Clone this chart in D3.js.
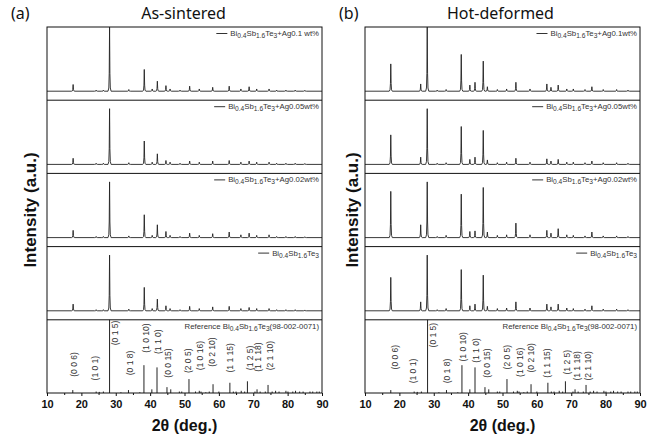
<!DOCTYPE html>
<html><head><meta charset="utf-8">
<script src="https://cdn.jsdelivr.net/npm/d3@7"></script>
<style>body{margin:0;background:#fff}svg{display:block}</style>
</head><body>
<svg id="c" width="653" height="445"></svg>
<script>
// ---------------- DATA ----------------
const panelTitles = ["As-sintered", "Hot-deformed"];
const panelTags = ["(a)", "(b)"];
const xTicks = [10, 20, 30, 40, 50, 60, 70, 80, 90];
const xMinorTicks = [15, 25, 35, 45, 55, 65, 75, 85];
const xLabel = "2θ (deg.)";
const yLabel = "Intensity (a.u.)";

// sample legends (top to bottom), sub-scripts marked by parts
const legendA = [
  [["Bi",0],["0.4",1],["Sb",0],["1.6",1],["Te",0],["3",1],["+Ag0.1 wt%",0]],
  [["Bi",0],["0.4",1],["Sb",0],["1.6",1],["Te",0],["3",1],["+Ag0.05wt%",0]],
  [["Bi",0],["0.4",1],["Sb",0],["1.6",1],["Te",0],["3",1],["+Ag0.02wt%",0]],
  [["Bi",0],["0.4",1],["Sb",0],["1.6",1],["Te",0],["3",1]]
];
const legendB = [
  [["Bi",0],["0.4",1],["Sb",0],["1.6",1],["Te",0],["3",1],["+Ag0.1wt%",0]],
  [["Bi",0],["0.4",1],["Sb",0],["1.6",1],["Te",0],["3",1],["+Ag0.05wt%",0]],
  [["Bi",0],["0.4",1],["Sb",0],["1.6",1],["Te",0],["3",1],["+Ag0.02wt%",0]],
  [["Bi",0],["0.4",1],["Sb",0],["1.6",1],["Te",0],["3",1]]
];
const refLegend = [["Reference Bi",0],["0.4",1],["Sb",0],["1.6",1],["Te",0],["3",1],["(98-002-0071)",0]];

// As-sintered peak positions (deg) and relative intensities per sample
const peaksA = [17.6, 24.3, 26.4, 28.2, 33.8, 38.3, 40.6, 42.1, 44.6, 45.8, 48.7, 51.5, 54.3, 58.2, 63.0, 66.4, 68.8, 71.0, 74.6, 76.8, 79.5, 82.2, 85.0];
const asAg01  = [0.12,0.02,0.02,1.15,0.03,0.39,0.04,0.18,0.10,0.04,0.02,0.09,0.04,0.07,0.09,0.04,0.08,0.04,0.04,0.02,0.02,0.02,0.015];
const asAg005 = [0.11,0.02,0.02,1.00,0.03,0.42,0.04,0.19,0.07,0.04,0.02,0.06,0.04,0.06,0.07,0.04,0.06,0.04,0.04,0.02,0.02,0.02,0.015];
const asAg002 = [0.13,0.02,0.02,1.00,0.03,0.41,0.04,0.23,0.11,0.04,0.02,0.08,0.04,0.07,0.10,0.05,0.08,0.04,0.05,0.02,0.02,0.02,0.015];
const asAg0   = [0.12,0.02,0.02,1.00,0.03,0.42,0.04,0.21,0.09,0.04,0.02,0.08,0.04,0.07,0.08,0.04,0.06,0.04,0.04,0.02,0.02,0.02,0.015];

// Hot-deformed peak positions and intensities
const peaksB = [17.5, 26.2, 28.1, 31.0, 33.6, 38.0, 40.5, 42.0, 44.4, 45.6, 48.5, 51.2, 53.9, 58.0, 62.9, 64.1, 66.2, 68.7, 70.6, 74.0, 76.0, 79.3, 83.2, 86.5];
const hdAg01  = [0.49,0.13,1.15,0.02,0.03,0.66,0.11,0.16,0.54,0.08,0.03,0.04,0.16,0.04,0.13,0.07,0.11,0.04,0.04,0.03,0.08,0.03,0.03,0.02];
const hdAg005 = [0.53,0.13,1.00,0.02,0.03,0.68,0.09,0.13,0.61,0.08,0.03,0.04,0.11,0.04,0.10,0.06,0.09,0.04,0.04,0.03,0.06,0.03,0.03,0.02];
const hdAg002 = [0.83,0.23,1.00,0.02,0.04,0.78,0.11,0.12,0.90,0.10,0.04,0.05,0.26,0.05,0.13,0.08,0.16,0.05,0.04,0.03,0.10,0.03,0.03,0.02];
const hdAg0   = [0.60,0.16,1.00,0.02,0.04,0.74,0.09,0.12,0.64,0.08,0.04,0.05,0.16,0.05,0.12,0.07,0.12,0.05,0.04,0.03,0.09,0.03,0.03,0.02];

// Reference stick pattern (98-002-0071)
const refPos = [17.5,24.3,25.2,26.4,28.2,31.5,33.7,37.0,38.2,40.5,42.0,44.9,46.0,48.5,49.2,51.3,53.2,54.3,54.8,56.2,57.2,58.3,60.0,63.2,64.2,65.0,66.5,67.5,68.3,70.5,71.1,72.0,73.5,74.3,75.5,76.5,77.5,79.5,80.1,81.5,82.3,83.5,84.5,86.5,87.3,88.5,89.2];
const refInt = [0.04,0.02,0.015,0.02,1.0,0.01,0.04,0.01,0.38,0.05,0.35,0.08,0.05,0.02,0.02,0.19,0.02,0.03,0.02,0.01,0.02,0.12,0.02,0.14,0.02,0.02,0.03,0.02,0.16,0.02,0.05,0.02,0.02,0.11,0.02,0.03,0.02,0.03,0.02,0.02,0.03,0.02,0.02,0.02,0.02,0.02,0.02];
const hklLabels = ["(0 0 6)","(1 0 1)","(0 1 5)","(0 1 8)","(1 0 10)","(1 1 0)","(0 0 15)","(2 0 5)","(1 0 16)","(0 2 10)","(1 1 15)","(1 2 5)","(1 1 18)","(2 1 10)"];
// label anchor (deg, relative height in reference band) for each panel
const hklDegA = [17.85,24.0,29.8,34.1,38.8,42.4,45.1,51.1,54.5,57.9,63.2,69.1,71.5,74.9];
const hklRelA = [0.39,0.34,0.82,0.41,0.75,0.70,0.41,0.44,0.51,0.56,0.48,0.48,0.49,0.51];
const hklDegB = [18.7,24.1,29.9,33.9,38.4,42.3,45.4,51.2,55.1,58.3,62.9,68.7,71.6,75.0];
const hklRelB = [0.49,0.30,0.79,0.30,0.63,0.58,0.41,0.49,0.42,0.48,0.41,0.42,0.37,0.37];

// ---------------- DRAW ----------------
const svg = d3.select("#c");
const plotTop = 27, plotBottom = 393, nBands = 5;
const bandH = (plotBottom - plotTop) / nBands;
const FONT = "'Liberation Sans', Arial, sans-serif";

// peak profile shape (offset in deg, fraction of peak height)
const profOff = [-0.45,-0.22,-0.1,0,0.1,0.22,0.45];
const profFr  = [0,0.05,0.28,1,0.28,0.05,0];

function profilePoints(pos, vals) {
  const pts = [[10, 0]];
  pos.forEach((p, i) => {
    profOff.forEach((o, k) => pts.push([p + o, vals[i] * profFr[k]]));
  });
  pts.push([90, 0]);
  return pts;
}

const panels = [
  {x0: 47, x1: 322, peaks: peaksA, series: [asAg01, asAg005, asAg002, asAg0], legend: legendA, hklDeg: hklDegA, hklRel: hklRelA, ylx: 30},
  {x0: 365, x1: 640, peaks: peaksB, series: [hdAg01, hdAg005, hdAg002, hdAg0], legend: legendB, hklDeg: hklDegB, hklRel: hklRelB, ylx: 352}
];

function richText(sel, parts, size) {
  let prevSub = false;
  parts.forEach(([t, sub]) => {
    const ts = sel.append("tspan").text(t);
    if (sub) { ts.attr("font-size", size * 0.85); if (!prevSub) ts.attr("dy", 2); }
    else if (prevSub) ts.attr("dy", -2);
    prevSub = !!sub;
  });
}

panels.forEach((P, pi) => {
  const g = svg.append("g");
  const x = d3.scaleLinear().domain([10, 90]).range([P.x0, P.x1]);

  const clipId = "clip" + pi;
  svg.append("clipPath").attr("id", clipId).append("rect")
    .attr("x", P.x0).attr("y", plotTop).attr("width", P.x1 - P.x0).attr("height", plotBottom - plotTop);

  // patterns
  P.series.forEach((vals, bi) => {
    const bTop = plotTop + bi * bandH, bBot = bTop + bandH;
    const y = d3.scaleLinear().domain([0, 1]).range([bBot - 9, bTop + 8.5]);
    const line = d3.line().x(d => x(d[0])).y(d => y(d[1]));
    g.append("path").attr("clip-path", `url(#${clipId})`)
      .attr("d", line(profilePoints(P.peaks, vals)))
      .attr("fill", "none").attr("stroke", "#222").attr("stroke-width", 0.9);

    // legend
    const t = g.append("text").attr("x", P.x1 - 3).attr("y", bTop + 9)
      .attr("text-anchor", "end").attr("font-family", FONT).attr("font-size", 7.8).attr("fill", "#333");
    richText(t, P.legend[bi], 7.8);
    const w = t.node().getComputedTextLength();
    const lx = P.x1 - 3 - w - 3;
    g.append("line").attr("x1", lx - 11).attr("x2", lx).attr("y1", bTop + 6.5).attr("y2", bTop + 6.5)
      .attr("stroke", "#333").attr("stroke-width", 1);
  });

  // reference sticks
  const rTop = plotTop + 4 * bandH;
  const yr = d3.scaleLinear().domain([0, 1]).range([plotBottom, rTop]);
  g.selectAll(".stick").data(refPos.map((p, i) => [p, refInt[i]])).enter().append("line")
    .attr("x1", d => x(d[0])).attr("x2", d => x(d[0]))
    .attr("y1", yr(0)).attr("y2", d => yr(d[1]))
    .attr("stroke", "#222").attr("stroke-width", 1);
  const rt = g.append("text").attr("x", P.x1 - 3).attr("y", rTop + 9)
    .attr("text-anchor", "end").attr("font-family", FONT).attr("font-size", 7.8).attr("fill", "#333");
  richText(rt, refLegend, 7.8);

  hklLabels.forEach((lab, i) => {
    const cx = x(P.hklDeg[i]), cy = yr(P.hklRel[i]);
    g.append("text").attr("transform", `translate(${cx},${cy}) rotate(-90)`)
      .attr("text-anchor", "middle").attr("dominant-baseline", "central")
      .attr("font-family", FONT).attr("font-size", 8.5).attr("fill", "#333").text(lab);
  });

  // band separators
  for (let b = 1; b < nBands; b++) {
    g.append("line").attr("x1", P.x0).attr("x2", P.x1)
      .attr("y1", plotTop + b * bandH).attr("y2", plotTop + b * bandH)
      .attr("stroke", "#111").attr("stroke-width", 1);
  }
  // frame
  g.append("rect").attr("x", P.x0).attr("y", plotTop).attr("width", P.x1 - P.x0).attr("height", plotBottom - plotTop)
    .attr("fill", "none").attr("stroke", "#111").attr("stroke-width", 1);

  // x axis
  const ax = g.append("g").attr("transform", `translate(0,${plotBottom})`)
    .call(d3.axisBottom(x).tickValues(xTicks).tickSize(3).tickPadding(4).tickFormat(d3.format("d")));
  ax.select(".domain").remove();
  ax.selectAll("text").attr("font-family", FONT).attr("font-weight", "bold").attr("font-size", 11).attr("fill", "#111");
  ax.selectAll("line").attr("stroke", "#111");
  const axm = g.append("g").attr("transform", `translate(0,${plotBottom})`)
    .call(d3.axisBottom(x).tickValues(xMinorTicks).tickSize(2).tickFormat(""));
  axm.select(".domain").remove();
  axm.selectAll("line").attr("stroke", "#111");

  g.append("text").attr("x", (P.x0 + P.x1) / 2).attr("y", 431).attr("text-anchor", "middle")
    .attr("font-family", FONT).attr("font-weight", "bold").attr("font-size", 16).attr("fill", "#111").text(xLabel);

  g.append("text").attr("transform", `translate(${P.ylx},210) rotate(-90)`).attr("text-anchor", "middle")
    .attr("dominant-baseline", "central")
    .attr("font-family", FONT).attr("font-weight", "bold").attr("font-size", 17).attr("fill", "#111").text(yLabel);

  // titles
  g.append("text").attr("x", pi === 0 ? 11 : 339).attr("y", 19)
    .attr("font-family", "'Noto Sans', sans-serif").attr("font-size", 16).attr("fill", "#111").text(panelTags[pi]);
  g.append("text").attr("x", (P.x0 + P.x1) / 2 + (pi === 0 ? -1 : -2)).attr("y", 19).attr("text-anchor", "middle")
    .attr("font-family", "'Noto Sans', sans-serif").attr("font-size", 16).attr("fill", "#111").text(panelTitles[pi]);
});
</script>
</body></html>
